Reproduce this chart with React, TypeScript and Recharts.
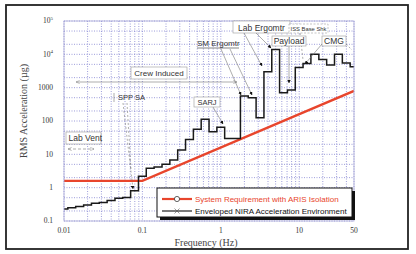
import { CartesianGrid, Line, LineChart, XAxis, YAxis } from "recharts";

const W = 416;
const H = 254;
// plot box in page pixels (matches margins + axis sizes below)
const PL = 64;
const PT = 21;
const PR = 354;
const PB = 221;

// 1/3-octave band lower edges (Hz) and the enveloped NIRA level per band (µg RMS)
const bandEdges = [
  0.01, 0.0112, 0.0141, 0.0178, 0.0224, 0.0282, 0.0355, 0.0447, 0.0562, 0.0708,
  0.0891, 0.112, 0.141, 0.178, 0.224, 0.282, 0.355, 0.447, 0.562, 0.708,
  0.891, 1.12, 1.41, 1.78, 2.24, 2.82, 3.55, 4.47, 5.62, 7.08,
  8.91, 11.2, 14.1, 17.8, 22.4, 28.2, 35.5, 44.7,
];
const niraLevels = [
  0.23, 0.25, 0.27, 0.3, 0.34, 0.36, 0.41, 0.48, 0.51, 0.81,
  2.2, 3.8, 4.2, 5.0, 6.8, 13.5, 28, 57, 112, 48,
  65, 30, 30, 560, 500, 125, 3000, 14000, 700, 850,
  4000, 5300, 10100, 7000, 4800, 10100, 5450, 4250,
];
const bandEnd = 50;

// ISS system requirement with ARIS isolation
const reqFreq = [0.01, 0.1, 50];
const reqLevel = [1.6, 1.6, 800];

const seriesNames = [
  "System Requirement with ARIS Isolation",
  "Enveloped NIRA Acceleration Environment",
];

// grid / tick positions
const xTicks = [0.01, 0.1, 1, 10].flatMap((d) =>
  [1, 2, 3, 4, 5, 6, 7, 8, 9].map((m) => +(d * m).toPrecision(2))
).filter((v) => v <= 50).concat([50]).filter((v, i, a) => a.indexOf(v) === i);
const xLabelVals = [0.01, 0.1, 1, 10, 50];
const xLabelText = ["0.01", "0.1", "1", "10", "50"];
const yTicks = [
  0.1, 0.2, 0.5, 1, 2, 5, 10, 20, 50, 100, 200, 500, 1000, 2000, 5000, 10000, 20000, 50000, 100000,
];
const yLabelVals = [0.1, 1, 10, 100, 1000, 10000, 100000];
const yLabelBase = ["0.1", "1", "10", "100", "1000", "10", "10"];
const yLabelExp = ["", "", "", "", "", "4", "5"];

const niraData = bandEdges
  .map((f, i) => ({ f, v: niraLevels[i] }))
  .concat([{ f: bandEnd, v: niraLevels[niraLevels.length - 1] }]);
const reqData = reqFreq.map((f, i) => ({ f, v: reqLevel[i] }));

const RED = "#e8452c";
const SERIF = "'Liberation Serif', 'DejaVu Serif', serif";
const SANS = "'Liberation Sans', Arial, sans-serif";

function XTick({ x, y, payload }: any) {
  const i = xLabelVals.indexOf(payload.value);
  if (i < 0) return <g />;
  return (
    <text x={x} y={y} dy="0.71em" textAnchor="middle" fontFamily={SERIF} fontSize={7.5} fill="#333">
      {xLabelText[i]}
    </text>
  );
}

function YTick({ x, y, payload }: any) {
  const i = yLabelVals.indexOf(payload.value);
  if (i < 0) return <g />;
  return (
    <text x={x} y={y} dy="0.32em" textAnchor="end" fontFamily={SERIF} fontSize={7.5} fill="#333">
      {yLabelBase[i]}
      {yLabelExp[i] && (
        <tspan dy={-3.5} fontSize={5}>
          {yLabelExp[i]}
        </tspan>
      )}
    </text>
  );
}

const lbl = { fontFamily: SANS, fill: "#333" } as const;
const box = { fill: "#fff", stroke: "#9a9a9a", strokeWidth: 0.6 } as const;
const lead = { stroke: "#777", strokeWidth: 0.6, fill: "none" } as const;

function Annotations() {
  return (
    <svg width={W} height={H} style={{ position: "absolute", left: 0, top: 0, pointerEvents: "none" }}>
      <defs>
        <marker id="tip" viewBox="0 0 10 10" refX="9" refY="5" markerWidth="6" markerHeight="6" orient="auto">
          <path d="M0,0 L10,5 L0,10 z" fill="#111" />
        </marker>
        <marker id="open" viewBox="0 0 10 10" refX="9" refY="5" markerWidth="7" markerHeight="7" orient="auto-start-reverse">
          <path d="M0,1 L9,5 L0,9" fill="none" stroke="#777" strokeWidth="1" />
        </marker>
      </defs>

      {/* plot frame */}
      <rect x={PL} y={PT} width={PR - PL} height={PB - PT} fill="none" stroke="#a8a8d8" strokeWidth={0.8} />

      {/* Lab Vent */}
      <rect x={66} y={132} width={35} height={12} {...box} />
      <text x={68.5} y={141} fontSize={8.5} {...lbl}>Lab Vent</text>
      <line x1={68} y1={149} x2={94} y2={149} {...lead} strokeDasharray="3 2" markerStart="url(#open)" markerEnd="url(#open)" />

      {/* SPP SA */}
      <line x1={114} y1={93} x2={114} y2={102} {...lead} />
      <text x={118} y={100} fontSize={7.5} {...lbl}>SPP SA</text>
      <line x1={123} y1={103} x2={133} y2={189} {...lead} strokeDasharray="2 2" markerEnd="url(#tip)" />
      <line x1={127} y1={103} x2={131} y2={170} {...lead} strokeDasharray="2 2" />

      {/* Crew Induced */}
      <rect x={131} y={67} width={56} height={12} {...box} />
      <text x={159} y={76} fontSize={8} textAnchor="middle" {...lbl}>Crew Induced</text>
      <line x1={76} y1={82} x2={237} y2={82} {...lead} markerStart="url(#open)" markerEnd="url(#open)" />

      {/* SARJ */}
      <rect x={194} y={97} width={26} height={10} {...box} />
      <text x={207} y={105} fontSize={7.5} textAnchor="middle" {...lbl}>SARJ</text>
      <line x1={213} y1={107} x2={223} y2={124} {...lead} markerEnd="url(#tip)" />

      {/* SM Ergomtr */}
      <text x={197} y={46} fontSize={8} {...lbl}>SM Ergomtr</text>
      <line x1={197} y1={48} x2={239} y2={48} stroke="#333" strokeWidth={0.6} />
      <line x1={221} y1={49} x2={241} y2={95} {...lead} markerEnd="url(#tip)" />
      <line x1={230} y1={49} x2={252} y2={95} {...lead} markerEnd="url(#tip)" />

      {/* Lab Ergomtr */}
      <rect x={233} y={21} width={57} height={12} {...box} />
      <text x={261.5} y={30.5} fontSize={8.5} textAnchor="middle" {...lbl}>Lab Ergomtr</text>
      <line x1={256} y1={33} x2={271} y2={48} {...lead} markerEnd="url(#tip)" />
      <line x1={244} y1={33} x2={262} y2={66} {...lead} markerEnd="url(#tip)" />

      {/* ISS Base Shk */}
      <rect x={289} y={24} width={39} height={9} fill="#fff" stroke="#888" strokeWidth={0.5} strokeDasharray="2 1.5" />
      <text x={308.5} y={30.5} fontSize={5.8} textAnchor="middle" {...lbl}>ISS Base Shk</text>
      <line x1={300} y1={33} x2={303} y2={60} {...lead} strokeDasharray="2 2" />

      {/* Payload */}
      <rect x={272} y={36} width={34} height={10} {...box} />
      <text x={289} y={44} fontSize={8.5} textAnchor="middle" {...lbl}>Payload</text>
      <line x1={289} y1={46} x2={289} y2={83} {...lead} markerEnd="url(#tip)" />

      {/* CMG */}
      <rect x={322} y={36} width={24} height={10} {...box} />
      <text x={334} y={44} fontSize={8.5} textAnchor="middle" {...lbl}>CMG</text>
      <line x1={322} y1={44} x2={305} y2={64} {...lead} markerEnd="url(#tip)" />
      <line x1={346} y1={44} x2={352} y2={50} {...lead} strokeDasharray="2 2" />

      {/* legend */}
      <rect x={160} y={191} width={195} height={29} fill="#111" />
      <rect x={157} y={188} width={195} height={29} fill="#fff" stroke="#111" strokeWidth={1} />
      <line x1={162} y1={199} x2={192} y2={199} stroke={RED} strokeWidth={2.2} />
      <circle cx={177} cy={199} r={2.6} fill="#fff" stroke="#222" strokeWidth={0.7} />
      <text x={195} y={202} fontSize={8} fontFamily={SANS} fill={RED}>{seriesNames[0]}</text>
      <line x1={162} y1={211} x2={192} y2={211} stroke="#222" strokeWidth={1.2} />
      <path d="M174.5,208.5 L179.5,213.5 M174.5,213.5 L179.5,208.5" stroke="#555" strokeWidth={0.6} />
      <text x={195} y={214} fontSize={8} fontFamily={SANS} fill="#111">{seriesNames[1]}</text>

      {/* axis titles */}
      <text x={206} y={246} fontSize={10} textAnchor="middle" fontFamily={SERIF} fill="#444">Frequency (Hz)</text>
      <text
        x={0}
        y={0}
        fontSize={10}
        textAnchor="middle"
        fontFamily={SERIF}
        fill="#444"
        transform="translate(27,111) rotate(-90)"
      >
        RMS Acceleration (µg)
      </text>

      {/* outer frame */}
      <rect x={6} y={5} width={402} height={244} fill="none" stroke="#222" strokeWidth={1.8} />
    </svg>
  );
}

export default function App() {
  return (
    <div style={{ position: "absolute", left: 0, top: 0, width: W, height: H, background: "#fff" }}>
      <LineChart width={W} height={H} margin={{ top: PT, right: W - PR, bottom: H - PB - 30, left: PL - 40 }}>
        <CartesianGrid stroke="#7474cc" strokeDasharray="1 1.5" strokeWidth={0.7} />
        <XAxis
          type="number"
          dataKey="f"
          scale="log"
          domain={[0.01, 50]}
          ticks={xTicks}
          interval={0}
          allowDataOverflow
          height={30}
          tickLine={false}
          axisLine={false}
          tickSize={0}
          tickMargin={7}
          tick={<XTick />}
        />
        <YAxis
          type="number"
          dataKey="v"
          scale="log"
          domain={[0.1, 100000]}
          ticks={yTicks}
          interval={0}
          allowDataOverflow
          width={40}
          tickLine={false}
          axisLine={false}
          tickSize={0}
          tickMargin={11}
          tick={<YTick />}
        />
        <Line
          data={reqData}
          dataKey="v"
          name={seriesNames[0]}
          type="linear"
          stroke={RED}
          strokeWidth={2.4}
          dot={false}
          isAnimationActive={false}
        />
        <Line
          data={niraData}
          dataKey="v"
          name={seriesNames[1]}
          type="stepAfter"
          stroke="#1a1a1a"
          strokeWidth={1.5}
          dot={false}
          isAnimationActive={false}
        />
      </LineChart>
      <Annotations />
    </div>
  );
}
